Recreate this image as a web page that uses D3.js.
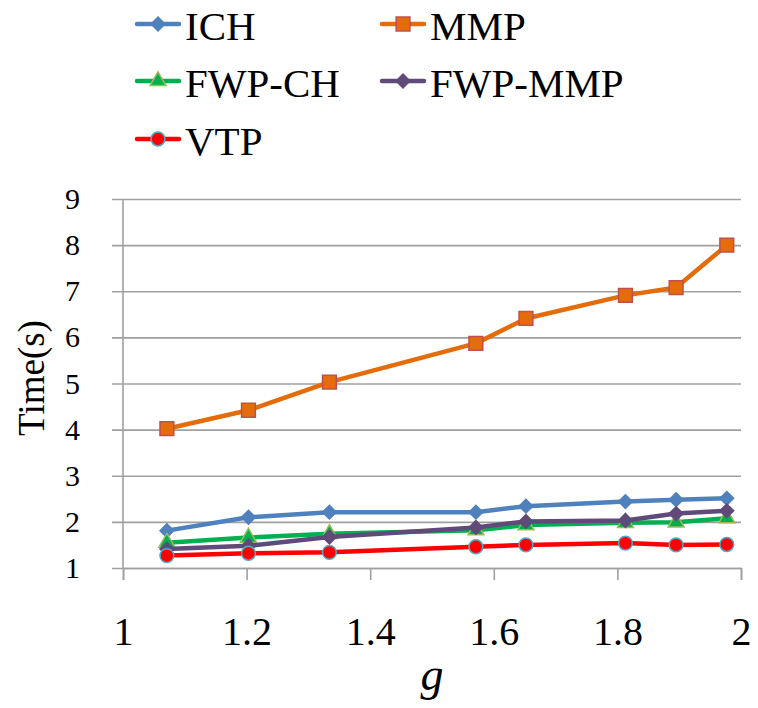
<!DOCTYPE html>
<html>
<head>
<meta charset="utf-8">
<script src="https://cdn.jsdelivr.net/npm/d3@7/dist/d3.min.js"></script>
<style>
  html, body { margin: 0; padding: 0; background: #fff; }
  svg { display: block; }
  text { font-family: "Liberation Serif", "Times New Roman", serif; fill: #000; }
</style>
</head>
<body>
<svg id="chart" width="758" height="708"></svg>
<script>
// Running time of each method against the ratio g
const gValues = [1.071, 1.203, 1.334, 1.571, 1.652, 1.813, 1.895, 1.977];
const seriesNames = ["ICH", "MMP", "FWP-CH", "FWP-MMP", "VTP"];
const ichTimes    = [1.81, 2.10, 2.21, 2.21, 2.34, 2.44, 2.48, 2.51];
const mmpTimes    = [4.02, 4.42, 5.03, 5.87, 6.41, 6.91, 7.08, 8.00];
const fwpChTimes  = [1.55, 1.66, 1.74, 1.82, 1.93, 1.98, 1.99, 2.08];
const fwpMmpTimes = [1.41, 1.48, 1.67, 1.88, 2.01, 2.03, 2.18, 2.24];
const vtpTimes    = [1.27, 1.32, 1.34, 1.46, 1.50, 1.54, 1.50, 1.51];
const xTicks = [1, 1.2, 1.4, 1.6, 1.8, 2];
const yTicks = [1, 2, 3, 4, 5, 6, 7, 8, 9];

const styles = {
  "ICH":     { line: "#4F81BD", fill: "#4F81BD", stroke: "#4F81BD", shape: d3.symbolDiamond2, size: 120 },
  "MMP":     { line: "#E46C0A", fill: "#E46C0A", stroke: "#C0504D", shape: d3.symbolSquare,   size: 190 },
  "FWP-CH":  { line: "#00B050", fill: "#00B050", stroke: "#9BBB59", shape: d3.symbolTriangle, size: 110 },
  "FWP-MMP": { line: "#604A7B", fill: "#604A7B", stroke: "#604A7B", shape: d3.symbolDiamond2, size: 120 },
  "VTP":     { line: "#FF0000", fill: "#FF0000", stroke: "#4BACC6", shape: d3.symbolCircle,   size: 150 }
};

const seriesValues = [ichTimes, mmpTimes, fwpChTimes, fwpMmpTimes, vtpTimes];
const series = seriesNames.map((name, i) => ({
  name,
  points: gValues.map((g, j) => ({ g, t: seriesValues[i][j] }))
}));

const svg = d3.select("#chart");
const plotLeft = 123, plotRight = 741, plotTop = 199, plotBottom = 568;

const x = d3.scaleLinear().domain([1, 2]).range([plotLeft, plotRight]);
const y = d3.scaleLinear().domain([1, 9]).range([plotBottom, plotTop]);

const gridColor = "#A0A0A0";
const serif = '"Liberation Serif", "Times New Roman", serif';

// Horizontal gridlines with outward tick stubs and y labels
const yAxis = svg.append("g")
  .attr("transform", `translate(${plotRight},0)`)
  .call(d3.axisLeft(y).tickValues(yTicks).tickFormat(d3.format("d"))
    .tickSize(plotRight - 112).tickPadding(32));
yAxis.select(".domain").remove();
yAxis.selectAll(".tick line").attr("stroke", gridColor).attr("stroke-width", 1.6);
yAxis.selectAll(".tick text").style("font-size", "30px").style("font-family", serif);

// Vertical axis line
svg.append("line")
  .attr("x1", plotLeft).attr("x2", plotLeft).attr("y1", plotTop).attr("y2", plotBottom)
  .attr("stroke", gridColor).attr("stroke-width", 1.6);

// Bottom axis
const xAxis = svg.append("g")
  .attr("transform", `translate(0,${plotBottom})`)
  .call(d3.axisBottom(x).tickValues(xTicks).tickFormat(d => String(d))
    .tickSizeInner(12).tickSizeOuter(12).tickPadding(37));
xAxis.select(".domain").attr("stroke", gridColor).attr("stroke-width", 1.6);
xAxis.selectAll(".tick line").attr("stroke", gridColor).attr("stroke-width", 1.6);
xAxis.selectAll(".tick text").style("font-size", "40px").style("font-family", serif);

// Axis titles
svg.append("text")
  .attr("transform", "translate(44,378) rotate(-90)")
  .attr("text-anchor", "middle")
  .style("font-size", "37px")
  .text("Time(s)");

svg.append("text")
  .attr("x", (plotLeft + plotRight) / 2).attr("y", 690)
  .attr("text-anchor", "middle")
  .style("font-size", "46px")
  .style("font-style", "italic")
  .text("g");

// Lines and markers
const line = d3.line().x(d => x(d.g)).y(d => y(d.t));

series.forEach(s => {
  const st = styles[s.name];
  const grp = svg.append("g");
  grp.append("path")
    .datum(s.points)
    .attr("d", line)
    .attr("fill", "none")
    .attr("stroke", st.line)
    .attr("stroke-width", 4.5)
    .attr("stroke-linejoin", "round");
  grp.selectAll("path.marker")
    .data(s.points)
    .join("path")
    .attr("class", "marker")
    .attr("transform", d => `translate(${x(d.g)},${y(d.t)})`)
    .attr("d", d3.symbol().type(st.shape).size(st.size))
    .attr("fill", st.fill)
    .attr("stroke", st.stroke)
    .attr("stroke-width", 1.5);
});

// Legend
const legendCols = [137, 382];
const legendRows = [24, 81, 139];
series.forEach((s, i) => {
  const st = styles[s.name];
  const lx = legendCols[i % 2];
  const ly = legendRows[Math.floor(i / 2)];
  const item = svg.append("g").attr("transform", `translate(${lx},${ly})`);
  item.append("line")
    .attr("x1", 0).attr("x2", 42).attr("y1", 0).attr("y2", 0)
    .attr("stroke", st.line).attr("stroke-width", 4.5).attr("stroke-linecap", "round");
  item.append("path")
    .attr("transform", "translate(21,0)")
    .attr("d", d3.symbol().type(st.shape).size(st.size))
    .attr("fill", st.fill)
    .attr("stroke", st.stroke)
    .attr("stroke-width", 1.5);
  item.append("text")
    .attr("x", 48).attr("y", 16)
    .style("font-size", "41px")
    .text(s.name);
});
</script>
</body>
</html>
